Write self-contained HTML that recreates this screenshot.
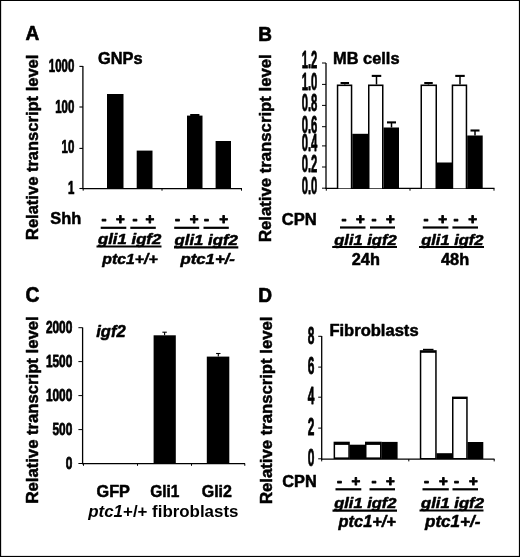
<!DOCTYPE html>
<html><head><meta charset="utf-8"><title>Figure</title>
<style>
html,body{margin:0;padding:0;background:#fff;}
body{width:520px;height:557px;overflow:hidden;}
svg{display:block;}
svg text{font-family:"Liberation Sans",Arial,Helvetica,sans-serif;font-weight:bold;fill:#000;}
</style></head><body>
<svg width="520" height="557" viewBox="0 0 520 557">
<rect x="0" y="0" width="520" height="557" fill="#fff"/>
<text transform="translate(25.50 40.10) scale(0.9100 1)" font-size="21" stroke="#000" stroke-width="0.7" stroke-linejoin="round">A</text>
<text transform="translate(37.60 240.00) rotate(-90) scale(1.0326 1)" font-size="16" stroke="#000" stroke-width="0.5" stroke-linejoin="round">Relative transcript level</text>
<text transform="translate(98.00 64.30) scale(1.0236 1)" font-size="16" stroke="#000" stroke-width="0.5" stroke-linejoin="round">GNPs</text>
<line x1="82.9" y1="66" x2="82.9" y2="189" stroke="#000" stroke-width="1.3"/>
<line x1="82.4" y1="188.7" x2="242" y2="188.7" stroke="#000" stroke-width="1.2"/>
<line x1="79.4" y1="66.4" x2="82.9" y2="66.4" stroke="#000" stroke-width="1.1"/>
<text transform="translate(74.30 72.40) scale(0.6550 1)" font-size="17.5" text-anchor="end" stroke="#000" stroke-width="0.75" stroke-linejoin="round">1000</text>
<line x1="79.4" y1="107" x2="82.9" y2="107" stroke="#000" stroke-width="1.1"/>
<text transform="translate(74.30 113.00) scale(0.6550 1)" font-size="17.5" text-anchor="end" stroke="#000" stroke-width="0.75" stroke-linejoin="round">100</text>
<line x1="79.4" y1="148.4" x2="82.9" y2="148.4" stroke="#000" stroke-width="1.1"/>
<text transform="translate(74.30 153.30) scale(0.6550 1)" font-size="17.5" text-anchor="end" stroke="#000" stroke-width="0.75" stroke-linejoin="round">10</text>
<line x1="79.4" y1="188.5" x2="82.9" y2="188.5" stroke="#000" stroke-width="1.1"/>
<text transform="translate(74.30 194.10) scale(0.6550 1)" font-size="17.5" text-anchor="end" stroke="#000" stroke-width="0.75" stroke-linejoin="round">1</text>
<line x1="83.2" y1="188.5" x2="83.2" y2="190.7" stroke="#000" stroke-width="1"/>
<line x1="162" y1="188.5" x2="162" y2="190.7" stroke="#000" stroke-width="1"/>
<line x1="241.5" y1="188.5" x2="241.5" y2="190.7" stroke="#000" stroke-width="1"/>
<rect x="107.00" y="94.00" width="16.50" height="94.30" fill="#000"/>
<rect x="136.70" y="150.60" width="15.80" height="37.70" fill="#000"/>
<rect x="187.00" y="115.60" width="15.50" height="72.70" fill="#000"/>
<rect x="215.60" y="141.00" width="15.40" height="47.30" fill="#000"/>
<rect x="190.20" y="114.00" width="9.20" height="2.00" fill="#000"/>
<text transform="translate(50.30 223.80) scale(1.0258 1)" font-size="16" stroke="#000" stroke-width="0.5" stroke-linejoin="round">Shh</text>
<text transform="translate(103.90 224.00)" font-size="15" text-anchor="middle" stroke="#000" stroke-width="0.9" stroke-linejoin="round">-</text>
<text transform="translate(120.40 224.00)" font-size="15" text-anchor="middle" stroke="#000" stroke-width="0.9" stroke-linejoin="round">+</text>
<text transform="translate(134.90 224.00)" font-size="15" text-anchor="middle" stroke="#000" stroke-width="0.9" stroke-linejoin="round">-</text>
<text transform="translate(149.90 224.00)" font-size="15" text-anchor="middle" stroke="#000" stroke-width="0.9" stroke-linejoin="round">+</text>
<text transform="translate(177.40 224.00)" font-size="15" text-anchor="middle" stroke="#000" stroke-width="0.9" stroke-linejoin="round">-</text>
<text transform="translate(194.00 224.00)" font-size="15" text-anchor="middle" stroke="#000" stroke-width="0.9" stroke-linejoin="round">+</text>
<text transform="translate(206.40 224.00)" font-size="15" text-anchor="middle" stroke="#000" stroke-width="0.9" stroke-linejoin="round">-</text>
<text transform="translate(223.60 224.00)" font-size="15" text-anchor="middle" stroke="#000" stroke-width="0.9" stroke-linejoin="round">+</text>
<line x1="100.7" y1="227.8" x2="126.3" y2="227.8" stroke="#000" stroke-width="2.2"/>
<line x1="130.3" y1="227.8" x2="155.8" y2="227.8" stroke="#000" stroke-width="2.2"/>
<line x1="174.2" y1="227.8" x2="199.2" y2="227.8" stroke="#000" stroke-width="2.2"/>
<line x1="203.5" y1="227.8" x2="228.8" y2="227.8" stroke="#000" stroke-width="2.2"/>
<text transform="translate(98.00 244.20) scale(1.1967 1)" font-size="14" font-style="italic" stroke="#000" stroke-width="0.5" stroke-linejoin="round">gli1 igf2</text>
<line x1="96.5" y1="246.5" x2="161.5" y2="246.5" stroke="#000" stroke-width="2.2"/>
<text transform="translate(174.60 245.00) scale(1.1967 1)" font-size="14" font-style="italic" stroke="#000" stroke-width="0.5" stroke-linejoin="round">gli1 igf2</text>
<line x1="174" y1="247.3" x2="238.3" y2="247.3" stroke="#000" stroke-width="2.2"/>
<text transform="translate(102.30 264.20) scale(1.0546 1)" font-size="15" font-style="italic" stroke="#000" stroke-width="0.5" stroke-linejoin="round">ptc1+/+</text>
<text transform="translate(180.40 264.20) scale(1.1197 1)" font-size="15" font-style="italic" stroke="#000" stroke-width="0.5" stroke-linejoin="round">ptc1+/-</text>
<text transform="translate(258.30 40.50) scale(0.9034 1)" font-size="21" stroke="#000" stroke-width="0.7" stroke-linejoin="round">B</text>
<text transform="translate(270.90 242.00) rotate(-90) scale(1.0449 1)" font-size="16" stroke="#000" stroke-width="0.5" stroke-linejoin="round">Relative transcript level</text>
<text transform="translate(333.00 63.80) scale(1.0260 1)" font-size="16" stroke="#000" stroke-width="0.5" stroke-linejoin="round">MB cells</text>
<line x1="326.0" y1="63" x2="326.0" y2="189" stroke="#000" stroke-width="1.3"/>
<line x1="325.5" y1="188.4" x2="494.5" y2="188.4" stroke="#000" stroke-width="1.3"/>
<line x1="322.0" y1="63" x2="326.0" y2="63" stroke="#000" stroke-width="1"/>
<text transform="translate(317.30 68.40) scale(0.4900 1)" font-size="23" text-anchor="end" stroke="#000" stroke-width="0.8" stroke-linejoin="round">1.2</text>
<line x1="322.0" y1="84.4" x2="326.0" y2="84.4" stroke="#000" stroke-width="1"/>
<text transform="translate(317.30 89.80) scale(0.4900 1)" font-size="23" text-anchor="end" stroke="#000" stroke-width="0.8" stroke-linejoin="round">1.0</text>
<line x1="322.0" y1="105.4" x2="326.0" y2="105.4" stroke="#000" stroke-width="1"/>
<text transform="translate(317.30 111.10) scale(0.4900 1)" font-size="23" text-anchor="end" stroke="#000" stroke-width="0.8" stroke-linejoin="round">0.8</text>
<line x1="322.0" y1="126.7" x2="326.0" y2="126.7" stroke="#000" stroke-width="1"/>
<text transform="translate(317.30 133.20) scale(0.4900 1)" font-size="23" text-anchor="end" stroke="#000" stroke-width="0.8" stroke-linejoin="round">0.6</text>
<line x1="322.0" y1="145.9" x2="326.0" y2="145.9" stroke="#000" stroke-width="1"/>
<text transform="translate(317.30 151.00) scale(0.4900 1)" font-size="23" text-anchor="end" stroke="#000" stroke-width="0.8" stroke-linejoin="round">0.4</text>
<line x1="322.0" y1="167" x2="326.0" y2="167" stroke="#000" stroke-width="1"/>
<text transform="translate(317.30 172.40) scale(0.4900 1)" font-size="23" text-anchor="end" stroke="#000" stroke-width="0.8" stroke-linejoin="round">0.2</text>
<line x1="322.0" y1="188.2" x2="326.0" y2="188.2" stroke="#000" stroke-width="1"/>
<text transform="translate(317.30 193.70) scale(0.4900 1)" font-size="23" text-anchor="end" stroke="#000" stroke-width="0.8" stroke-linejoin="round">0.0</text>
<line x1="326.3" y1="188.5" x2="326.3" y2="190.7" stroke="#000" stroke-width="1"/>
<line x1="410" y1="188.5" x2="410" y2="190.7" stroke="#000" stroke-width="1"/>
<line x1="494" y1="188.5" x2="494" y2="190.7" stroke="#000" stroke-width="1"/>
<rect x="336.80" y="84.50" width="15.50" height="103.80" fill="#000"/>
<rect x="338.30" y="86.10" width="12.50" height="102.20" fill="#fff"/>
<rect x="352.30" y="133.80" width="15.70" height="54.50" fill="#000"/>
<rect x="368.00" y="84.50" width="15.50" height="103.80" fill="#000"/>
<rect x="369.50" y="86.10" width="12.50" height="102.20" fill="#fff"/>
<rect x="383.50" y="127.50" width="15.50" height="60.80" fill="#000"/>
<line x1="344.8" y1="83" x2="344.8" y2="84.5" stroke="#000" stroke-width="1.4"/>
<line x1="340.55" y1="83" x2="349.05" y2="83" stroke="#000" stroke-width="2.0"/>
<line x1="376.5" y1="75.9" x2="376.5" y2="84.5" stroke="#000" stroke-width="1.5"/>
<line x1="371.75" y1="75.9" x2="381.25" y2="75.9" stroke="#000" stroke-width="2.1"/>
<line x1="391.5" y1="122.4" x2="391.5" y2="127.5" stroke="#000" stroke-width="1.5"/>
<line x1="387.0" y1="122.4" x2="396.0" y2="122.4" stroke="#000" stroke-width="2.1"/>
<rect x="420.50" y="84.50" width="16.50" height="103.80" fill="#000"/>
<rect x="422.00" y="86.10" width="13.50" height="102.20" fill="#fff"/>
<rect x="436.50" y="162.50" width="15.70" height="25.80" fill="#000"/>
<rect x="451.70" y="84.50" width="15.50" height="103.80" fill="#000"/>
<rect x="453.20" y="86.10" width="12.50" height="102.20" fill="#fff"/>
<rect x="467.20" y="135.50" width="15.50" height="52.80" fill="#000"/>
<line x1="428.5" y1="83" x2="428.5" y2="84.5" stroke="#000" stroke-width="1.4"/>
<line x1="424.25" y1="83" x2="432.75" y2="83" stroke="#000" stroke-width="2.0"/>
<line x1="460" y1="75.9" x2="460" y2="84.5" stroke="#000" stroke-width="1.5"/>
<line x1="455.25" y1="75.9" x2="464.75" y2="75.9" stroke="#000" stroke-width="2.1"/>
<line x1="475" y1="130.5" x2="475" y2="135.5" stroke="#000" stroke-width="1.5"/>
<line x1="470.5" y1="130.5" x2="479.5" y2="130.5" stroke="#000" stroke-width="2.1"/>
<text transform="translate(281.80 224.60) scale(1.0361 1)" font-size="16" stroke="#000" stroke-width="0.5" stroke-linejoin="round">CPN</text>
<text transform="translate(343.90 224.00)" font-size="15" text-anchor="middle" stroke="#000" stroke-width="0.9" stroke-linejoin="round">-</text>
<text transform="translate(360.40 224.00)" font-size="15" text-anchor="middle" stroke="#000" stroke-width="0.9" stroke-linejoin="round">+</text>
<text transform="translate(373.90 224.00)" font-size="15" text-anchor="middle" stroke="#000" stroke-width="0.9" stroke-linejoin="round">-</text>
<text transform="translate(390.40 224.00)" font-size="15" text-anchor="middle" stroke="#000" stroke-width="0.9" stroke-linejoin="round">+</text>
<text transform="translate(425.90 224.00)" font-size="15" text-anchor="middle" stroke="#000" stroke-width="0.9" stroke-linejoin="round">-</text>
<text transform="translate(442.70 224.00)" font-size="15" text-anchor="middle" stroke="#000" stroke-width="0.9" stroke-linejoin="round">+</text>
<text transform="translate(456.10 224.00)" font-size="15" text-anchor="middle" stroke="#000" stroke-width="0.9" stroke-linejoin="round">-</text>
<text transform="translate(472.60 224.00)" font-size="15" text-anchor="middle" stroke="#000" stroke-width="0.9" stroke-linejoin="round">+</text>
<line x1="340" y1="227.5" x2="365.5" y2="227.5" stroke="#000" stroke-width="2.2"/>
<line x1="370" y1="227.5" x2="395" y2="227.5" stroke="#000" stroke-width="2.2"/>
<line x1="422.8" y1="227.5" x2="448.4" y2="227.5" stroke="#000" stroke-width="2.2"/>
<line x1="452.4" y1="227.5" x2="478" y2="227.5" stroke="#000" stroke-width="2.2"/>
<text transform="translate(334.30 244.60) scale(1.1778 1)" font-size="14" font-style="italic" stroke="#000" stroke-width="0.5" stroke-linejoin="round">gli1 igf2</text>
<line x1="332.2" y1="247" x2="397" y2="247" stroke="#000" stroke-width="2.2"/>
<text transform="translate(421.20 244.60) scale(1.1778 1)" font-size="14" font-style="italic" stroke="#000" stroke-width="0.5" stroke-linejoin="round">gli1 igf2</text>
<line x1="419" y1="247" x2="484" y2="247" stroke="#000" stroke-width="2.2"/>
<text transform="translate(351.70 265.30) scale(1.0228 1)" font-size="16" stroke="#000" stroke-width="0.5" stroke-linejoin="round">24h</text>
<text transform="translate(441.00 265.30) scale(1.0228 1)" font-size="16" stroke="#000" stroke-width="0.5" stroke-linejoin="round">48h</text>
<text transform="translate(25.40 301.70) scale(0.8670 1)" font-size="22.2" stroke="#000" stroke-width="0.7" stroke-linejoin="round">C</text>
<text transform="translate(37.50 503.50) rotate(-90) scale(1.0421 1)" font-size="16" stroke="#000" stroke-width="0.5" stroke-linejoin="round">Relative transcript level</text>
<text transform="translate(96.20 337.00) scale(1.0336 1)" font-size="16" font-style="italic" stroke="#000" stroke-width="0.5" stroke-linejoin="round">igf2</text>
<line x1="82.6" y1="327.5" x2="82.6" y2="464.2" stroke="#000" stroke-width="1.3"/>
<line x1="82.1" y1="463.6" x2="245" y2="463.6" stroke="#000" stroke-width="1.3"/>
<line x1="78.39999999999999" y1="327.7" x2="82.6" y2="327.7" stroke="#000" stroke-width="1"/>
<text transform="translate(72.30 333.40) scale(0.7420 1)" font-size="16" text-anchor="end" stroke="#000" stroke-width="0.75" stroke-linejoin="round">2000</text>
<line x1="78.39999999999999" y1="361.6" x2="82.6" y2="361.6" stroke="#000" stroke-width="1"/>
<text transform="translate(72.30 367.30) scale(0.7420 1)" font-size="16" text-anchor="end" stroke="#000" stroke-width="0.75" stroke-linejoin="round">1500</text>
<line x1="78.39999999999999" y1="395.6" x2="82.6" y2="395.6" stroke="#000" stroke-width="1"/>
<text transform="translate(72.30 401.30) scale(0.7420 1)" font-size="16" text-anchor="end" stroke="#000" stroke-width="0.75" stroke-linejoin="round">1000</text>
<line x1="78.39999999999999" y1="429.6" x2="82.6" y2="429.6" stroke="#000" stroke-width="1"/>
<text transform="translate(72.30 435.30) scale(0.7420 1)" font-size="16" text-anchor="end" stroke="#000" stroke-width="0.75" stroke-linejoin="round">500</text>
<line x1="78.39999999999999" y1="463.5" x2="82.6" y2="463.5" stroke="#000" stroke-width="1"/>
<text transform="translate(72.30 469.20) scale(0.7420 1)" font-size="16" text-anchor="end" stroke="#000" stroke-width="0.75" stroke-linejoin="round">0</text>
<line x1="83.5" y1="463.5" x2="83.5" y2="465.8" stroke="#000" stroke-width="1"/>
<line x1="137.5" y1="463.5" x2="137.5" y2="465.8" stroke="#000" stroke-width="1"/>
<line x1="191.5" y1="463.5" x2="191.5" y2="465.8" stroke="#000" stroke-width="1"/>
<line x1="244.8" y1="463.5" x2="244.8" y2="465.8" stroke="#000" stroke-width="1"/>
<rect x="153.60" y="335.30" width="22.20" height="128.20" fill="#000"/>
<rect x="206.80" y="356.60" width="22.50" height="106.90" fill="#000"/>
<line x1="164.6" y1="332.2" x2="164.6" y2="335.3" stroke="#000" stroke-width="1.1"/>
<line x1="162.4" y1="332.2" x2="166.79999999999998" y2="332.2" stroke="#000" stroke-width="1.1"/>
<line x1="218.3" y1="353.5" x2="218.3" y2="356.6" stroke="#000" stroke-width="1.1"/>
<line x1="216.10000000000002" y1="353.5" x2="220.5" y2="353.5" stroke="#000" stroke-width="1.1"/>
<text transform="translate(96.50 496.80) scale(1.0185 1)" font-size="16" stroke="#000" stroke-width="0.5" stroke-linejoin="round">GFP</text>
<text transform="translate(150.20 496.80) scale(0.9691 1)" font-size="16" stroke="#000" stroke-width="0.5" stroke-linejoin="round">Gli1</text>
<text transform="translate(201.70 496.80) scale(0.9989 1)" font-size="16" stroke="#000" stroke-width="0.5" stroke-linejoin="round">Gli2</text>
<text transform="translate(88.3 517.3) scale(1.0560 1)" font-size="16"><tspan font-style="italic">ptc1</tspan>+/+ fibroblasts</text>
<text transform="translate(258.30 302.20) scale(0.9100 1)" font-size="21" stroke="#000" stroke-width="0.7" stroke-linejoin="round">D</text>
<text transform="translate(271.70 504.00) rotate(-90) scale(1.0437 1)" font-size="16" stroke="#000" stroke-width="0.5" stroke-linejoin="round">Relative transcript level</text>
<text transform="translate(329.40 336.30) scale(1.0355 1)" font-size="16" stroke="#000" stroke-width="0.5" stroke-linejoin="round">Fibroblasts</text>
<line x1="321.7" y1="336" x2="321.7" y2="459.8" stroke="#000" stroke-width="1.3"/>
<line x1="321.2" y1="459.2" x2="494.5" y2="459.2" stroke="#000" stroke-width="1.3"/>
<line x1="318.2" y1="336.3" x2="321.7" y2="336.3" stroke="#000" stroke-width="1"/>
<text transform="translate(314.30 343.50) scale(0.5200 1)" font-size="23" text-anchor="end" stroke="#000" stroke-width="0.8" stroke-linejoin="round">8</text>
<line x1="318.2" y1="367.1" x2="321.7" y2="367.1" stroke="#000" stroke-width="1"/>
<text transform="translate(314.30 374.30) scale(0.5200 1)" font-size="23" text-anchor="end" stroke="#000" stroke-width="0.8" stroke-linejoin="round">6</text>
<line x1="318.2" y1="397.2" x2="321.7" y2="397.2" stroke="#000" stroke-width="1"/>
<text transform="translate(314.30 404.40) scale(0.5200 1)" font-size="23" text-anchor="end" stroke="#000" stroke-width="0.8" stroke-linejoin="round">4</text>
<line x1="318.2" y1="428.1" x2="321.7" y2="428.1" stroke="#000" stroke-width="1"/>
<text transform="translate(314.30 435.30) scale(0.5200 1)" font-size="23" text-anchor="end" stroke="#000" stroke-width="0.8" stroke-linejoin="round">2</text>
<line x1="318.2" y1="458.8" x2="321.7" y2="458.8" stroke="#000" stroke-width="1"/>
<text transform="translate(314.30 466.00) scale(0.5200 1)" font-size="23" text-anchor="end" stroke="#000" stroke-width="0.8" stroke-linejoin="round">0</text>
<line x1="321.7" y1="459" x2="321.7" y2="461.4" stroke="#000" stroke-width="1"/>
<line x1="408.8" y1="459" x2="408.8" y2="461.4" stroke="#000" stroke-width="1"/>
<line x1="494.2" y1="459" x2="494.2" y2="461.4" stroke="#000" stroke-width="1"/>
<rect x="333.60" y="441.70" width="16.20" height="17.30" fill="#000"/>
<rect x="335.10" y="444.90" width="13.20" height="12.50" fill="#fff"/>
<rect x="349.50" y="444.70" width="15.50" height="14.30" fill="#000"/>
<rect x="365.00" y="441.70" width="16.50" height="17.30" fill="#000"/>
<rect x="366.50" y="444.90" width="13.50" height="12.50" fill="#fff"/>
<rect x="381.30" y="441.90" width="16.30" height="17.10" fill="#000"/>
<rect x="419.80" y="350.20" width="16.90" height="108.80" fill="#000"/>
<rect x="421.30" y="352.80" width="13.90" height="105.20" fill="#fff"/>
<rect x="436.50" y="453.20" width="15.80" height="5.80" fill="#000"/>
<rect x="452.00" y="396.60" width="15.70" height="62.40" fill="#000"/>
<rect x="453.50" y="399.00" width="12.70" height="59.00" fill="#fff"/>
<rect x="467.50" y="442.00" width="15.80" height="17.00" fill="#000"/>
<line x1="423" y1="349.6" x2="433.5" y2="349.6" stroke="#000" stroke-width="1.6"/>
<text transform="translate(282.30 486.80) scale(1.0213 1)" font-size="16" stroke="#000" stroke-width="0.5" stroke-linejoin="round">CPN</text>
<text transform="translate(339.40 486.00)" font-size="15" text-anchor="middle" stroke="#000" stroke-width="0.9" stroke-linejoin="round">-</text>
<text transform="translate(355.90 486.00)" font-size="15" text-anchor="middle" stroke="#000" stroke-width="0.9" stroke-linejoin="round">+</text>
<text transform="translate(373.90 486.00)" font-size="15" text-anchor="middle" stroke="#000" stroke-width="0.9" stroke-linejoin="round">-</text>
<text transform="translate(390.40 486.00)" font-size="15" text-anchor="middle" stroke="#000" stroke-width="0.9" stroke-linejoin="round">+</text>
<text transform="translate(426.40 486.00)" font-size="15" text-anchor="middle" stroke="#000" stroke-width="0.9" stroke-linejoin="round">-</text>
<text transform="translate(443.40 486.00)" font-size="15" text-anchor="middle" stroke="#000" stroke-width="0.9" stroke-linejoin="round">+</text>
<text transform="translate(456.40 486.00)" font-size="15" text-anchor="middle" stroke="#000" stroke-width="0.9" stroke-linejoin="round">-</text>
<text transform="translate(473.40 486.00)" font-size="15" text-anchor="middle" stroke="#000" stroke-width="0.9" stroke-linejoin="round">+</text>
<line x1="335.5" y1="489.3" x2="361.3" y2="489.3" stroke="#000" stroke-width="2.2"/>
<line x1="369.5" y1="489.3" x2="395" y2="489.3" stroke="#000" stroke-width="2.2"/>
<line x1="422.5" y1="489.3" x2="448.8" y2="489.3" stroke="#000" stroke-width="2.2"/>
<line x1="452.5" y1="489.3" x2="478" y2="489.3" stroke="#000" stroke-width="2.2"/>
<text transform="translate(334.20 508.20) scale(1.1778 1)" font-size="14" font-style="italic" stroke="#000" stroke-width="0.5" stroke-linejoin="round">gli1 igf2</text>
<line x1="332.5" y1="510.7" x2="397" y2="510.7" stroke="#000" stroke-width="2.2"/>
<text transform="translate(421.00 508.20) scale(1.1910 1)" font-size="14" font-style="italic" stroke="#000" stroke-width="0.5" stroke-linejoin="round">gli1 igf2</text>
<line x1="419.5" y1="510.5" x2="483.5" y2="510.5" stroke="#000" stroke-width="2.2"/>
<text transform="translate(338.60 527.00) scale(1.0226 1)" font-size="16" font-style="italic" stroke="#000" stroke-width="0.5" stroke-linejoin="round">ptc1+/+</text>
<text transform="translate(425.00 527.00) scale(1.0651 1)" font-size="16" font-style="italic" stroke="#000" stroke-width="0.5" stroke-linejoin="round">ptc1+/-</text>
<rect x="0" y="0" width="520" height="1" fill="#000"/>
<rect x="0" y="0" width="1.15" height="557" fill="#000"/>
<rect x="518.9" y="0" width="1.1" height="557" fill="#000"/>
<rect x="0" y="555.9" width="520" height="1.1" fill="#000"/>
</svg>
</body></html>
